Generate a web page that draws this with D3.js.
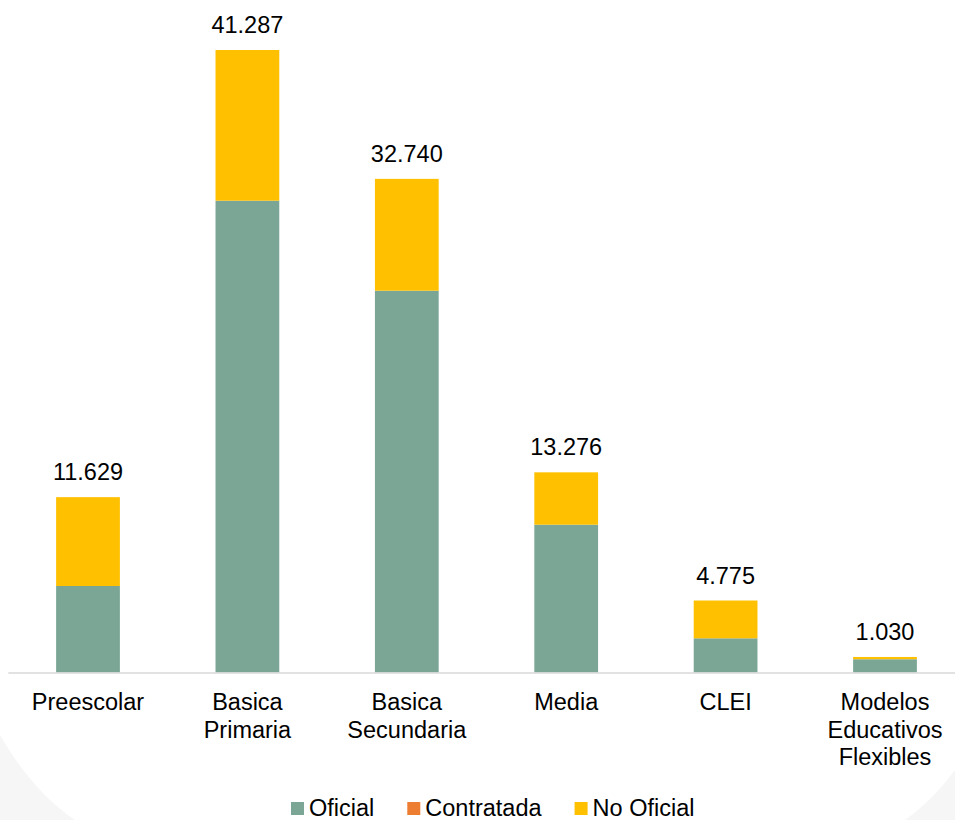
<!DOCTYPE html>
<html>
<head>
<meta charset="utf-8">
<script src="https://cdn.jsdelivr.net/npm/d3@7"></script>
<style>
  html, body { margin: 0; padding: 0; background: #fff; }
  svg { display: block; font-family: "Liberation Sans", Arial, sans-serif; }
</style>
</head>
<body>
<svg id="chart" width="955" height="820"></svg>
<script>
// data
const categories = ["Preescolar", "Basica Primaria", "Basica Secundaria", "Media", "CLEI", "Modelos Educativos Flexibles"]
const categoryLines = [["Preescolar"], ["Basica", "Primaria"], ["Basica", "Secundaria"], ["Media"], ["CLEI"], ["Modelos", "Educativos", "Flexibles"]]
const oficial = [5737, 31292, 25323, 9803, 2268, 880]
const contratada = [0, 0, 0, 0, 0, 0]
const noOficial = [5892, 9995, 7417, 3473, 2507, 150]
const totals = [11629, 41287, 32740, 13276, 4775, 1030]
const seriesNames = ["Oficial", "Contratada", "No Oficial"]
const seriesColors = ["#7BA695", "#ED7D31", "#FFC000"]

const width = 955, height = 820
const svg = d3.select("#chart")

// faint slide background corners
svg.append("path")
    .attr("d", "M0,735 C20,770 45,800 75,820 L0,820 Z")
    .attr("fill", "#f6f6f6")
svg.append("path")
    .attr("d", "M955,770 C940,790 925,806 905,820 L955,820 Z")
    .attr("fill", "#f6f6f6")

const rows = categories.map((c, i) => ({
    cat: c, Oficial: oficial[i], Contratada: contratada[i], "No Oficial": noOficial[i], total: totals[i]
}))

const stack = d3.stack().keys(seriesNames)(rows)

const x = d3.scaleBand(categories, [8.3, 964.7]).paddingInner(0.6).paddingOuter(0.3)
const y = d3.scaleLinear([0, d3.max(totals)], [672.5, 50])
const color = d3.scaleOrdinal(seriesNames, seriesColors)

// bars
svg.append("g")
    .selectAll("g")
    .data(stack)
    .join("g")
    .attr("fill", d => color(d.key))
    .selectAll("rect")
    .data(d => d)
    .join("rect")
    .attr("x", d => x(d.data.cat))
    .attr("y", d => y(d[1]))
    .attr("width", x.bandwidth())
    .attr("height", d => y(d[0]) - y(d[1]))

// x axis
const xAxis = d3.axisBottom(x).tickSize(0).tickSizeOuter(0).tickFormat("")
svg.append("g")
    .attr("transform", `translate(0,${y(0)})`)
    .call(xAxis)
    .call(g => g.select(".domain").attr("stroke", "#D9D9D9").attr("stroke-width", 1.5)
        .attr("d", `M8.3,0.5H${width}`))
    .call(g => g.selectAll(".tick text").remove())
    .selectAll(".tick")
    .append("text")
    .attr("fill", "#000")
    .attr("font-size", 23.5)
    .attr("text-anchor", "middle")
    .selectAll("tspan")
    .data((d, i) => categoryLines[categories.indexOf(d)])
    .join("tspan")
    .attr("x", 0)
    .attr("y", (d, i) => 37.5 + i * 27.5)
    .text(d => d)

// totals
const fmt = v => d3.format(",")(v).replace(/,/g, ".")
svg.append("g")
    .selectAll("text")
    .data(rows)
    .join("text")
    .attr("x", d => x(d.cat) + x.bandwidth() / 2)
    .attr("y", d => y(d.total) - 17)
    .attr("text-anchor", "middle")
    .attr("font-size", 23.5)
    .attr("fill", "#000")
    .text(d => fmt(d.total))

// legend
const legend = svg.append("g").attr("transform", "translate(291,816)")
let lx = 0
seriesNames.forEach(name => {
    const item = legend.append("g").attr("transform", `translate(${lx},0)`)
    item.append("rect")
        .attr("x", 0).attr("y", -14)
        .attr("width", 13).attr("height", 13)
        .attr("fill", color(name))
    const t = item.append("text")
        .attr("x", 18)
        .attr("font-size", 23.5)
        .attr("fill", "#000")
        .text(name)
    lx += 18 + t.node().getComputedTextLength() + 33
})
</script>
</body>
</html>
